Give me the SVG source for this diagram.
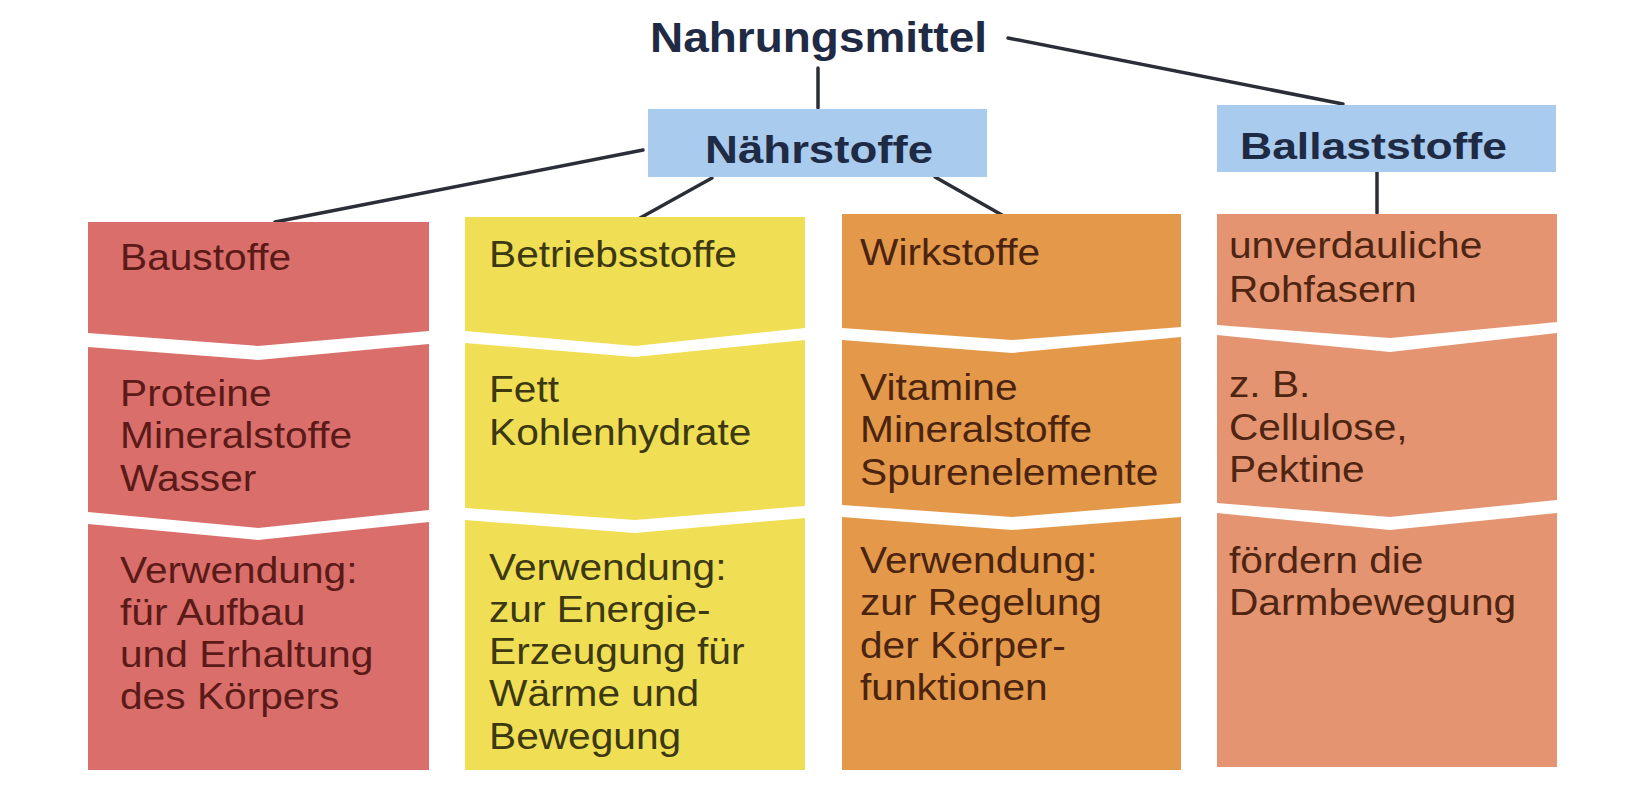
<svg xmlns="http://www.w3.org/2000/svg" width="1640" height="790" viewBox="0 0 1640 790">
<style>
.head{font-family:"Liberation Sans",Arial,sans-serif;font-weight:bold;fill:#1f2a44}
.t{font-family:"Liberation Sans",Arial,sans-serif;font-size:36px}
.conn{stroke:#2b2e36;stroke-width:3.5;fill:none;stroke-linecap:round}
.blue{fill:#a9cbee}
.c1{fill:#d96e6b}.c2{fill:#f0df55}.c3{fill:#e4984a}.c4{fill:#e49470}
.x1{fill:#5a1a17}.x2{fill:#3c3912}.x3{fill:#4a2410}.x4{fill:#4e2412}
</style>
<rect width="1640" height="790" fill="#ffffff"/>
<g id="connectors">
<line class="conn" x1="1008" y1="38" x2="1343" y2="104"/>
<line class="conn" x1="818" y1="68" x2="818" y2="108"/>
<line class="conn" x1="643" y1="150" x2="275" y2="222"/>
<line class="conn" x1="712" y1="178" x2="640" y2="218"/>
<line class="conn" x1="935" y1="177" x2="1002" y2="215"/>
<line class="conn" x1="1377" y1="172" x2="1377" y2="213"/>
</g>
<g id="nahrungsmittel">
<text class="head" x="650" y="52" font-size="42" textLength="337" lengthAdjust="spacingAndGlyphs">Nahrungsmittel</text>
</g>
<g id="naehrstoffe">
<rect class="blue" x="648" y="109" width="339" height="68"/>
<text class="head" x="705" y="163" font-size="38" textLength="228" lengthAdjust="spacingAndGlyphs">Nährstoffe</text>
</g>
<g id="ballaststoffe">
<rect class="blue" x="1217" y="105" width="339" height="67"/>
<text class="head" x="1240" y="159" font-size="36" textLength="267" lengthAdjust="spacingAndGlyphs">Ballaststoffe</text>
</g>
<g id="baustoffe">
<polygon class="c1" points="88,222 429,222 429,331 258,346 88,333"/>
<polygon class="c1" points="88,347 258,360 429,344 429,510 258,528 88,512"/>
<polygon class="c1" points="88,524 258,540 429,522 429,770 88,770"/>
<g class="t x1" transform="translate(120,0) scale(1.13,1)">
<text x="0" y="270">Baustoffe</text>
<text x="0" y="406">Proteine</text>
<text x="0" y="448">Mineralstoffe</text>
<text x="0" y="491">Wasser</text>
<text x="0" y="583">Verwendung:</text>
<text x="0" y="625">für Aufbau</text>
<text x="0" y="667">und Erhaltung</text>
<text x="0" y="709">des Körpers</text>
</g>
</g>
<g id="betriebsstoffe">
<polygon class="c2" points="465,217 805,217 805,328 635,346 465,331"/>
<polygon class="c2" points="465,343 635,357 805,340 805,506 635,520 465,508"/>
<polygon class="c2" points="465,520 635,533 805,518 805,770 465,770"/>
<g class="t x2" transform="translate(489,0) scale(1.13,1)">
<text x="0" y="267">Betriebsstoffe</text>
<text x="0" y="402">Fett</text>
<text x="0" y="445">Kohlenhydrate</text>
<text x="0" y="580">Verwendung:</text>
<text x="0" y="622">zur Energie-</text>
<text x="0" y="664">Erzeugung für</text>
<text x="0" y="706">Wärme und</text>
<text x="0" y="749">Bewegung</text>
</g>
</g>
<g id="wirkstoffe">
<polygon class="c3" points="842,214 1181,214 1181,327 1012,340 842,328"/>
<polygon class="c3" points="842,340 1012,353 1181,337 1181,503 1012,517 842,505"/>
<polygon class="c3" points="842,517 1012,530 1181,517 1181,770 842,770"/>
<g class="t x3" transform="translate(860,0) scale(1.13,1)">
<text x="0" y="265">Wirkstoffe</text>
<text x="0" y="400">Vitamine</text>
<text x="0" y="442">Mineralstoffe</text>
<text x="0" y="485">Spurenelemente</text>
<text x="0" y="573">Verwendung:</text>
<text x="0" y="615">zur Regelung</text>
<text x="0" y="658">der Körper-</text>
<text x="0" y="700">funktionen</text>
</g>
</g>
<g id="rohfasern">
<polygon class="c4" points="1217,214 1557,214 1557,322 1390,338 1217,325"/>
<polygon class="c4" points="1217,335 1390,352 1557,333 1557,500 1390,517 1217,503"/>
<polygon class="c4" points="1217,513 1390,530 1557,513 1557,767 1217,767"/>
<g class="t x4" transform="translate(1229,0) scale(1.13,1)">
<text x="0" y="258">unverdauliche</text>
<text x="0" y="302">Rohfasern</text>
<text x="0" y="397">z. B.</text>
<text x="0" y="440">Cellulose,</text>
<text x="0" y="482">Pektine</text>
<text x="0" y="573">fördern die</text>
<text x="0" y="615">Darmbewegung</text>
</g>
</g>
</svg>
